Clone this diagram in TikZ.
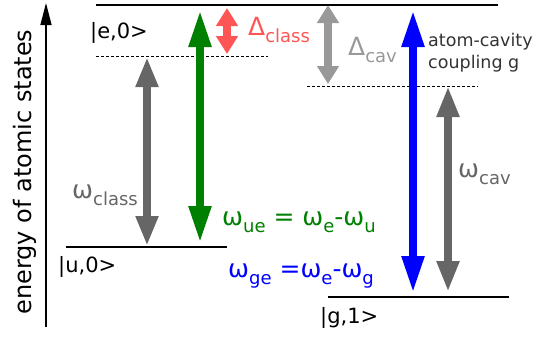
\documentclass[tikz,border=0pt]{standalone}
\usepackage{fontspec}
\setmainfont{DejaVu Sans}
\usetikzlibrary{arrows.meta}
\definecolor{dkgray}{HTML}{666666}
\definecolor{ltgray}{HTML}{999999}
\definecolor{redc}{HTML}{FF5555}
\definecolor{grn}{HTML}{008000}
\definecolor{blu}{HTML}{0000FF}
\definecolor{txtgray}{HTML}{333333}
\newcommand\lowsub[1]{\raisebox{-7pt}{\fontsize{18}{18}\selectfont #1}}
\tikzset{
  level/.style={line width=1.4pt, black},
  dashlevel/.style={line width=0.9pt, black, dash pattern=on 3pt off 2pt},
  dbl/.style={line width=8pt, arrows={Triangle[length=#1,width=21pt]-Triangle[length=#1,width=21pt]}},
  lbl/.style={anchor=base west, inner sep=0pt, font=\fontsize{21}{21}\selectfont},
  big/.style={anchor=base west, inner sep=0pt, font=\fontsize{25}{25}\selectfont},
  small/.style={anchor=base west, inner sep=0pt, font=\fontsize{17.5}{17.5}\selectfont, text=txtgray}
}
\begin{document}
\begin{tikzpicture}[x=1pt,y=-1pt]
\useasboundingbox (0,0) rectangle (537,338);
% axis
\coordinate (axb) at (46,327);
\coordinate (axt) at (46,3);
\draw[line width=1.4pt, -{Triangle[length=22pt,width=11pt]}] (axb) -- (axt);
\node[rotate=90, inner sep=0pt, font=\fontsize{24}{24}\selectfont] (axlab) at (25,172) {energy of atomic states};
% levels
\coordinate (eL) at (96,5);   \coordinate (eR) at (498,5);
\coordinate (dL1) at (96,56); \coordinate (dR1) at (268,56);
\coordinate (dL2) at (307,86);\coordinate (dR2) at (478,86);
\coordinate (uL) at (66,247); \coordinate (uR) at (227,247);
\coordinate (gL) at (328,297);\coordinate (gR) at (509,297);
\draw[level] (eL) -- (eR);
\draw[dashlevel] (dL1) -- (dR1);
\draw[dashlevel] (dL2) -- (dR2);
\draw[level] (uL) -- (uR);
\draw[level] (gL) -- (gR);
% level labels
\node[lbl] (e0) at (90,38) {|e,0>};
\node[lbl] (u0) at (58,272) {|u,0>};
\node[lbl] (g1) at (320,323) {|g,1>};
% arrows
\coordinate (ca) at (147,57);  \coordinate (cb) at (147,246);
\coordinate (ga) at (200,10);  \coordinate (gb) at (200,243);
\coordinate (ra) at (227,8);   \coordinate (rb) at (227,54);
\coordinate (la) at (328,5);   \coordinate (lb) at (328,84);
\coordinate (ba) at (413,10);  \coordinate (bb) at (413,293);
\coordinate (va) at (448,86);  \coordinate (vb) at (448,292);
\draw[dbl=30pt, dkgray] (ca) -- (cb);
\draw[dbl=37pt, grn] (ga) -- (gb);
\draw[dbl=18pt, redc] (ra) -- (rb);
\draw[dbl=18pt, ltgray] (la) -- (lb);
\draw[dbl=37pt, blu] (ba) -- (bb);
\draw[dbl=31pt, dkgray] (va) -- (vb);
% labels
\node[big, text=redc] (dclass) at (248,35) {Δ\lowsub{class}};
\node[big, text=ltgray] (dcav) at (348,55) {Δ\lowsub{cav}};
\node[small] (cpl1) at (428,46) {atom-cavity};
\node[small] (cpl2) at (428,68) {coupling g};
\node[big, text=dkgray] (wclass) at (72,198) {ω\lowsub{class}};
\node[big, text=dkgray] (wcav) at (458,177) {ω\lowsub{cav}};
\node[big, text=grn] (wue) at (222,225) {ω\lowsub{ue} = ω\lowsub{e}-ω\lowsub{u}};
\node[big, text=blu] (wge) at (228,277) {ω\lowsub{ge} =ω\lowsub{e}-ω\lowsub{g}};
\end{tikzpicture}
\end{document}
